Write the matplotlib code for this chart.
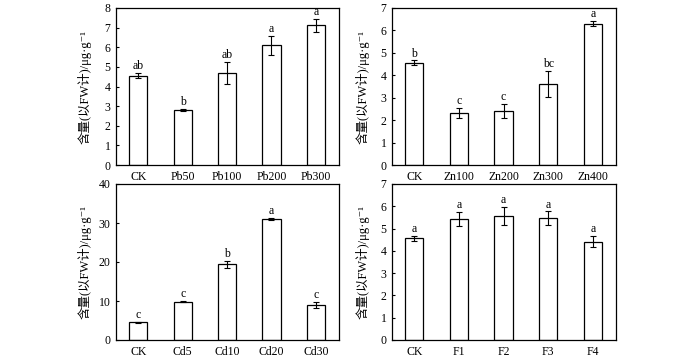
import matplotlib
matplotlib.use('Agg')
import matplotlib.pyplot as plt

plt.rcParams['font.family'] = ['Liberation Serif', 'Noto Sans CJK SC', 'DejaVu Sans']
plt.rcParams['axes.unicode_minus'] = False

# ── 数据 ─────────────────────────────────────────────
pb_cats = ['CK', 'Pb50', 'Pb100', 'Pb200', 'Pb300']
pb_vals = [4.56, 2.80, 4.68, 6.10, 7.11]
pb_err = [0.12, 0.04, 0.57, 0.48, 0.34]
pb_sig = ['ab', 'b', 'ab', 'a', 'a']

zn_cats = ['CK', 'Zn100', 'Zn200', 'Zn300', 'Zn400']
zn_vals = [4.56, 2.31, 2.41, 3.61, 6.30]
zn_err = [0.10, 0.23, 0.33, 0.59, 0.12]
zn_sig = ['b', 'c', 'c', 'bc', 'a']

cd_cats = ['CK', 'Cd5', 'Cd10', 'Cd20', 'Cd30']
cd_vals = [4.55, 9.85, 19.4, 31.0, 9.05]
cd_err = [0.15, 0.15, 0.9, 0.35, 0.75]
cd_sig = ['c', 'c', 'b', 'a', 'c']

f_cats = ['CK', 'F1', 'F2', 'F3', 'F4']
f_vals = [4.57, 5.43, 5.56, 5.46, 4.41]
f_err = [0.11, 0.33, 0.40, 0.31, 0.25]
f_sig = ['a', 'a', 'a', 'a', 'a']

YLABEL = '含量(以FW计)/μg·g⁻¹'

fig = plt.figure(figsize=(7.0, 3.58), dpi=100, facecolor='white')
W, H = 700, 358
# 像素位置 (left, top, right, bottom, ylabel offset)
boxes = [(116, 8, 339, 165, -24), (392, 8, 616, 165, -22),
         (116, 184, 339, 340, -24), (392, 184, 616, 340, -22)]
panels = [(pb_cats, pb_vals, pb_err, pb_sig, 8, 1),
          (zn_cats, zn_vals, zn_err, zn_sig, 7, 1),
          (cd_cats, cd_vals, cd_err, cd_sig, 40, 10),
          (f_cats, f_vals, f_err, f_sig, 7, 1)]

for (l, t, r, b, lx), (cats, vals, err, sig, ymax, step) in zip(boxes, panels):
    ax = fig.add_axes([l / W, 1 - b / H, (r - l) / W, (b - t) / H])
    x = range(len(cats))
    ax.bar(x, vals, width=0.41, color='white', edgecolor='black', linewidth=0.9)
    ax.errorbar(x, vals, yerr=err, fmt='none', ecolor='black',
                elinewidth=0.8, capsize=2, capthick=0.8)
    for xi, v, e, s in zip(x, vals, err, sig):
        ax.text(xi, v + e + ymax * 0.005, s, ha='center', va='bottom', fontsize=8.5)
    ax.set_xlim(-0.5, 4.52)
    ax.set_ylim(0, ymax)
    ax.set_yticks(range(0, ymax + 1, step))
    ax.set_xticks(list(x))
    ax.set_xticklabels(cats)
    ax.tick_params(axis='y', direction='in', length=2, width=0.8, labelsize=8.5, pad=4)
    ax.tick_params(axis='x', length=0, labelsize=8.5, pad=4)
    for sp in ax.spines.values():
        sp.set_linewidth(0.9)
    ax.set_ylabel(YLABEL, fontsize=9)
    ax.yaxis.set_label_coords(lx / (r - l), 0.5)

fig.savefig('out.png', dpi=100, facecolor='white')
